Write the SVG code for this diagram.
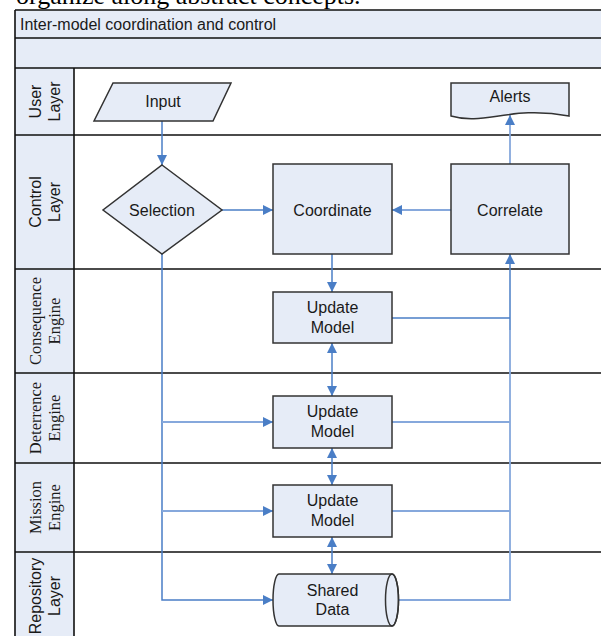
<svg xmlns="http://www.w3.org/2000/svg" width="601" height="636" viewBox="0 0 601 636">
<style>
.sans{font-family:"Liberation Sans",Arial,sans-serif;font-size:16px;fill:#1a1a1a}
.serif{font-family:"Liberation Serif","Times New Roman",serif;font-size:16.5px;fill:#1a1a1a}
.mid{text-anchor:middle}
.band{fill:#e6ecf7}
.lane{stroke:#111;stroke-width:1.6;fill:none}
.node{fill:#e6ecf7;stroke:#333;stroke-width:1.5}
.c{fill:none;stroke:#4a7ec6;stroke-width:1.5}
.cl{fill:none;stroke:#86a8dc;stroke-width:1.8}
</style>
<defs>
<marker id="ah" viewBox="0 0 10 10" refX="10" refY="5" markerWidth="11" markerHeight="10" markerUnits="userSpaceOnUse" orient="auto-start-reverse">
<path d="M0,0 L10,5 L0,10 Z" fill="#4a7ec6"/>
</marker>
</defs>
<rect width="601" height="636" fill="#fff"/>
<text x="16" y="4" style="font-family:'Liberation Serif','Times New Roman',serif;font-size:26px;fill:#000">organize along abstract concepts.</text>

<g id="frame">
<rect class="band" x="15" y="10" width="590" height="58"/>
<rect class="band" x="15" y="68" width="59" height="572"/>
<path class="lane" d="M15,10 H601 M15,38 H601 M15,68 H601 M15,135 H601 M15,269 H601 M15,373 H601 M15,463 H601 M15,552 H601 M15,10 V640 M74,68 V640"/>
<text class="sans" x="20" y="30">Inter-model coordination and control</text>
</g>

<g id="lane-user"><text class="sans mid" transform="translate(44.5,101.5) rotate(-90)"><tspan x="0" y="-4">User</tspan><tspan x="0" y="15">Layer</tspan></text></g>
<g id="lane-control"><text class="sans mid" transform="translate(44.5,202) rotate(-90)"><tspan x="0" y="-4">Control</tspan><tspan x="0" y="15">Layer</tspan></text></g>
<g id="lane-consequence"><text class="serif mid" transform="translate(44.5,321) rotate(-90)"><tspan x="0" y="-4">Consequence</tspan><tspan x="0" y="15">Engine</tspan></text></g>
<g id="lane-deterrence"><text class="serif mid" transform="translate(44.5,418) rotate(-90)"><tspan x="0" y="-4">Deterrence</tspan><tspan x="0" y="15">Engine</tspan></text></g>
<g id="lane-mission"><text class="serif mid" transform="translate(44.5,507.5) rotate(-90)"><tspan x="0" y="-4">Mission</tspan><tspan x="0" y="15">Engine</tspan></text></g>
<g id="lane-repository"><text class="sans mid" transform="translate(44.5,596) rotate(-90)"><tspan x="0" y="-4">Repository</tspan><tspan x="0" y="15">Layer</tspan></text></g>

<g id="connectors">
<path class="c" d="M162,121 V165" marker-end="url(#ah)"/>
<path class="c" d="M222,210 H273" marker-end="url(#ah)"/>
<path class="cl" d="M451,210 H392" marker-end="url(#ah)"/>
<path class="cl" d="M510,164 V115" marker-end="url(#ah)"/>
<path class="c" d="M332,254 V292" marker-end="url(#ah)"/>
<path class="c" d="M332,343 V396" marker-start="url(#ah)" marker-end="url(#ah)"/>
<path class="c" d="M332,448 V485" marker-start="url(#ah)" marker-end="url(#ah)"/>
<path class="c" d="M332,537 V574" marker-start="url(#ah)" marker-end="url(#ah)"/>
<path class="c" d="M162,254 V600 H273" marker-end="url(#ah)"/>
<path class="cl" d="M162,422 H273" marker-end="url(#ah)"/>
<path class="cl" d="M162,511 H273" marker-end="url(#ah)"/>
<path class="c" d="M392,318 H510"/>
<path class="cl" d="M392,422 H510"/>
<path class="cl" d="M392,511 H510"/>
<path class="cl" d="M398,600 H510 V330"/>
<path class="c" d="M510,330 V254" marker-end="url(#ah)"/>
</g>

<g id="input">
<polygon class="node" points="113,83 231,83 213,121 94,121"/>
<text class="sans mid" x="163" y="107">Input</text>
</g>
<g id="alerts">
<path class="node" d="M451,83 H569 V116 C510,105 485,126 451,116 Z"/>
<text class="sans mid" x="510" y="102">Alerts</text>
</g>
<g id="selection">
<polygon class="node" points="162,165 222,210 162,254 103,210"/>
<text class="sans mid" x="162" y="216">Selection</text>
</g>
<g id="coordinate">
<rect class="node" x="273" y="164" width="119" height="90"/>
<text class="sans mid" x="332.5" y="216">Coordinate</text>
</g>
<g id="correlate">
<rect class="node" x="451" y="164" width="118" height="90"/>
<text class="sans mid" x="510" y="216">Correlate</text>
</g>
<g id="update-consequence">
<rect class="node" x="273" y="292" width="119" height="51"/>
<text class="sans mid" x="332.5" y="313">Update</text>
<text class="sans mid" x="332.5" y="333">Model</text>
</g>
<g id="update-deterrence">
<rect class="node" x="273" y="396" width="119" height="52"/>
<text class="sans mid" x="332.5" y="417">Update</text>
<text class="sans mid" x="332.5" y="437">Model</text>
</g>
<g id="update-mission">
<rect class="node" x="273" y="485" width="119" height="52"/>
<text class="sans mid" x="332.5" y="506">Update</text>
<text class="sans mid" x="332.5" y="526">Model</text>
</g>
<g id="shared-data">
<path class="node" d="M279,574 H392 A6.5,26 0 0 1 392,626 H279 A6,26 0 0 1 279,574 Z"/>
<ellipse cx="392" cy="600" rx="6.5" ry="26" fill="none" stroke="#333" stroke-width="1.5"/>
<text class="sans mid" x="332.5" y="596">Shared</text>
<text class="sans mid" x="332.5" y="615">Data</text>
</g>
</svg>
